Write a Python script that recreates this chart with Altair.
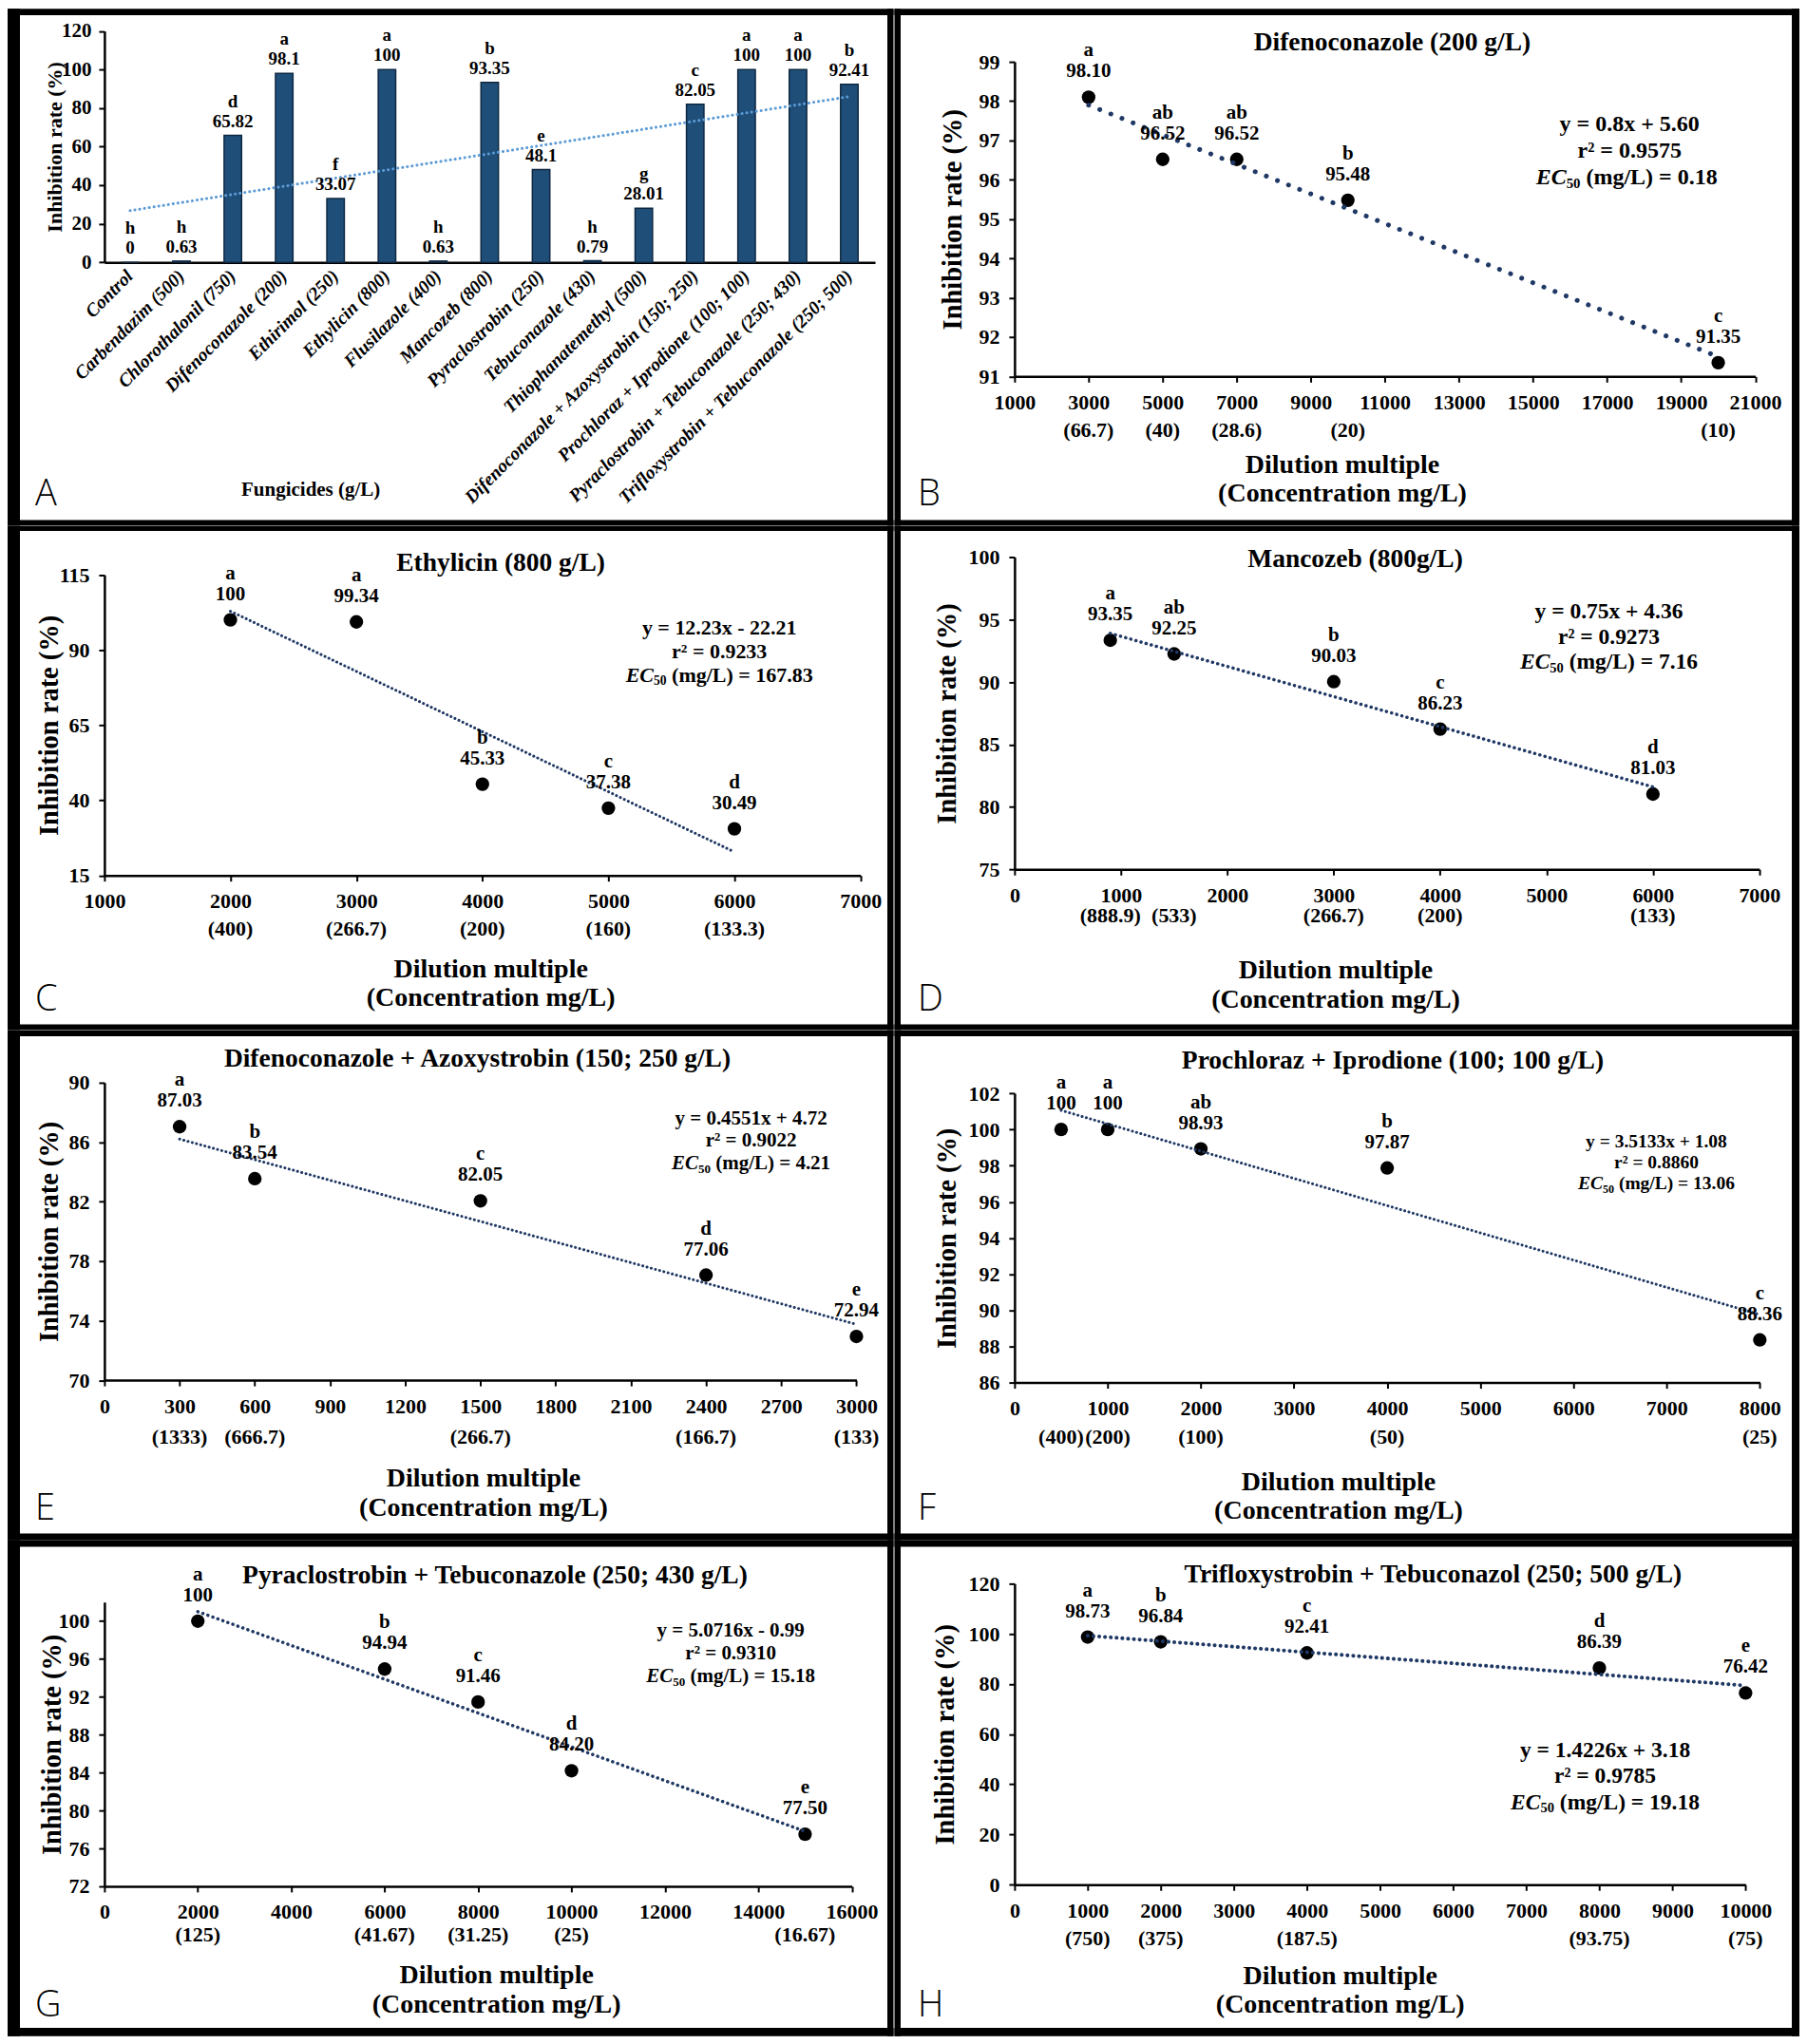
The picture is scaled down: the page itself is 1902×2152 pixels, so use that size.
import altair as alt
import pandas as pd

SERIF = "Liberation Serif"
LETTER_FONT = "Open Sans"
NAVY = "#1F3864"

# ---------------- Panel A: screening bar chart ----------------
A_categories = ["Control", "Carbendazim (500)", "Chlorothalonil (750)", "Difenoconazole (200)",
                "Ethirimol (250)", "Ethylicin (800)", "Flusilazole (400)", "Mancozeb (800)",
                "Pyraclostrobin (250)", "Tebuconazole (430)", "Thiophanatemethyl (500)",
                "Difenoconazole + Azoxystrobin (150; 250)", "Prochloraz + Iprodione (100; 100)",
                "Pyraclostrobin + Tebuconazole (250; 430)", "Trifloxystrobin + Tebuconazole (250; 500)"]
A_values = [0, 0.63, 65.82, 98.1, 33.07, 100, 0.63, 93.35, 48.1, 0.79, 28.01, 82.05, 100, 100, 92.41]
A_value_labels = ["0", "0.63", "65.82", "98.1", "33.07", "100", "0.63", "93.35", "48.1", "0.79",
                  "28.01", "82.05", "100", "100", "92.41"]
A_letters = ["h", "h", "d", "a", "f", "a", "h", "b", "e", "h", "g", "c", "a", "a", "b"]
A_trend_categories = ["Control", "Trifloxystrobin + Tebuconazole (250; 500)"]
A_trend_values = [26.8, 86.0]
A_y_ticks = [0, 20, 40, 60, 80, 100, 120]

# ---------------- Panel B ----------------
B_dilution = [3000, 5000, 7000, 10000, 20000]
B_inhibition = [98.10, 96.52, 96.52, 95.48, 91.35]
B_value_labels = ["98.10", "96.52", "96.52", "95.48", "91.35"]
B_letters = ["a", "ab", "ab", "b", "c"]
B_conc_labels = ["(66.7)", "(40)", "(28.6)", "(20)", "(10)"]
B_trend_x = [3000, 20000]
B_trend_y = [97.9, 91.5]
B_x_domain = [1000, 21000]
B_x_ticks = [1000, 3000, 5000, 7000, 9000, 11000, 13000, 15000, 17000, 19000, 21000]
B_y_domain = [91, 99]
B_y_ticks = [91, 92, 93, 94, 95, 96, 97, 98, 99]
B_title = "Difenoconazole (200 g/L)"
B_equation = "y = 0.8x + 5.60"
B_r2 = "r² = 0.9575"
B_ec50 = "(mg/L) =  0.18"

# ---------------- Panel C ----------------
C_dilution = [2000, 3000, 4000, 5000, 6000]
C_inhibition = [100, 99.34, 45.33, 37.38, 30.49]
C_value_labels = ["100", "99.34", "45.33", "37.38", "30.49"]
C_letters = ["a", "a", "b", "c", "d"]
C_conc_labels = ["(400)", "(266.7)", "(200)", "(160)", "(133.3)"]
C_trend_x = [2000, 6000]
C_trend_y = [102.9, 22.8]
C_x_domain = [1000, 7000]
C_x_ticks = [1000, 2000, 3000, 4000, 5000, 6000, 7000]
C_y_domain = [15, 115]
C_y_ticks = [15, 40, 65, 90, 115]
C_title = "Ethylicin (800 g/L)"
C_equation = "y = 12.23x - 22.21"
C_r2 = "r² = 0.9233"
C_ec50 = "(mg/L) = 167.83"

# ---------------- Panel D ----------------
D_dilution = [900, 1500, 3000, 4000, 6000]
D_inhibition = [93.35, 92.25, 90.03, 86.23, 81.03]
D_value_labels = ["93.35", "92.25", "90.03", "86.23", "81.03"]
D_letters = ["a", "ab", "b", "c", "d"]
D_conc_labels = ["(888.9)", "(533)", "(266.7)", "(200)", "(133)"]
D_trend_x = [900, 6000]
D_trend_y = [93.9, 81.6]
D_x_domain = [0, 7000]
D_x_ticks = [0, 1000, 2000, 3000, 4000, 5000, 6000, 7000]
D_y_domain = [75, 100]
D_y_ticks = [75, 80, 85, 90, 95, 100]
D_title = "Mancozeb (800g/L)"
D_equation = "y = 0.75x + 4.36"
D_r2 = "r² = 0.9273"
D_ec50 = "(mg/L) = 7.16"

# ---------------- Panel E ----------------
E_dilution = [300, 600, 1500, 2400, 3000]
E_inhibition = [87.03, 83.54, 82.05, 77.06, 72.94]
E_value_labels = ["87.03", "83.54", "82.05", "77.06", "72.94"]
E_letters = ["a", "b", "c", "d", "e"]
E_conc_labels = ["(1333)", "(666.7)", "(266.7)", "(166.7)", "(133)"]
E_trend_x = [300, 3000]
E_trend_y = [86.2, 73.75]
E_x_domain = [0, 3000]
E_x_ticks = [0, 300, 600, 900, 1200, 1500, 1800, 2100, 2400, 2700, 3000]
E_y_domain = [70, 90]
E_y_ticks = [70, 74, 78, 82, 86, 90]
E_title = "Difenoconazole + Azoxystrobin (150; 250 g/L)"
E_equation = "y = 0.4551x + 4.72"
E_r2 = "r² = 0.9022"
E_ec50 = "(mg/L) = 4.21"

# ---------------- Panel F ----------------
F_dilution = [500, 1000, 2000, 4000, 8000]
F_inhibition = [100, 100, 98.93, 97.87, 88.36]
F_value_labels = ["100", "100", "98.93", "97.87", "88.36"]
F_letters = ["a", "a", "ab", "b", "c"]
F_conc_labels = ["(400)", "(200)", "(100)", "(50)", "(25)"]
F_trend_x = [500, 8000]
F_trend_y = [101.06, 89.76]
F_x_domain = [0, 8000]
F_x_ticks = [0, 1000, 2000, 3000, 4000, 5000, 6000, 7000, 8000]
F_y_domain = [86, 102]
F_y_ticks = [86, 88, 90, 92, 94, 96, 98, 100, 102]
F_title = "Prochloraz + Iprodione (100; 100 g/L)"
F_equation = "y = 3.5133x + 1.08"
F_r2 = "r² = 0.8860"
F_ec50 = "(mg/L) = 13.06"

# ---------------- Panel G ----------------
G_dilution = [2000, 6000, 8000, 10000, 15000]
G_inhibition = [100, 94.94, 91.46, 84.20, 77.50]
G_value_labels = ["100", "94.94", "91.46", "84.20", "77.50"]
G_letters = ["a", "b", "c", "d", "e"]
G_conc_labels = ["(125)", "(41.67)", "(31.25)", "(25)", "(16.67)"]
G_trend_x = [2000, 15000]
G_trend_y = [101.0, 77.8]
G_x_domain = [0, 16000]
G_x_ticks = [0, 2000, 4000, 6000, 8000, 10000, 12000, 14000, 16000]
G_y_domain = [72, 102]
G_y_ticks = [72, 76, 80, 84, 88, 92, 96, 100]
G_title = "Pyraclostrobin + Tebuconazole (250; 430 g/L)"
G_equation = "y = 5.0716x - 0.99"
G_r2 = "r² = 0.9310"
G_ec50 = "(mg/L) = 15.18"

# ---------------- Panel H ----------------
H_dilution = [1000, 2000, 4000, 8000, 10000]
H_inhibition = [98.73, 96.84, 92.41, 86.39, 76.42]
H_value_labels = ["98.73", "96.84", "92.41", "86.39", "76.42"]
H_letters = ["a", "b", "c", "d", "e"]
H_conc_labels = ["(750)", "(375)", "(187.5)", "(93.75)", "(75)"]
H_trend_x = [1000, 10000]
H_trend_y = [99.3, 79.4]
H_x_domain = [0, 10000]
H_x_ticks = [0, 1000, 2000, 3000, 4000, 5000, 6000, 7000, 8000, 9000, 10000]
H_y_domain = [0, 120]
H_y_ticks = [0, 20, 40, 60, 80, 100, 120]
H_title = "Trifloxystrobin + Tebuconazol (250; 500 g/L)"
H_equation = "y = 1.4226x + 3.18"
H_r2 = "r² = 0.9785"
H_ec50 = "(mg/L) = 19.18"

# ---------------- layout (pixels, page coordinates) ----------------
COL_X = [(8, 941.5), (941.5, 1895)]
ROW_Y = [(8, 552.5), (552.5, 1084), (1084, 1621), (1621, 2144)]
COL_T = [(13, 6.5), (6.5, 8)]          # left / right frame thickness
ROW_T = [(7, 5.5), (5.5, 6), (6, 7), (7, 9)]  # top / bottom frame thickness
COL_PX = [110, 1068]                   # common y-axis position per column
VIEW_INSET = 20                        # view top below the frame's top edge
LETTER_X = [37, 966]

# measured plot areas: left, top, width, height
GEOM = {
    "A": dict(px0=109, py=31.6, W0=813, H=243.7, col=0, row=0),
    "B": dict(px0=1060, py=64, W0=788.5, H=331.6, col=1, row=0),
    "C": dict(px0=108, py=604.2, W0=798.6, H=316.8, col=0, row=1),
    "D": dict(px0=1072.3, py=585.6, W0=780.5, H=329, col=1, row=1),
    "E": dict(px0=110.4, py=1138.8, W0=792, H=313.7, col=0, row=2),
    "F": dict(px0=1072.3, py=1150.2, W0=781, H=304.8, col=1, row=2),
    "G": dict(px0=111, py=1686.5, W0=786.5, H=299.4, col=0, row=3),
    "H": dict(px0=1069.3, py=1667, W0=769, H=317.2, col=1, row=3),
}

# positions relative to the measured plot origin
STYLE = {
    "B": dict(title=(406, -20), eq=(656, 66.5, 28, 24), xt=(353, 92), yt=-57.5, conc=57, trend=(5, [0.1, 12.5])),
    "C": dict(title=(419.6, -12.7), eq=(650, 56, 25, 22), xt=(408.7, 97.5), yt=-56.5, conc=56, trend=(3, [0.1, 4.5])),
    "D": dict(title=(354.7, 2.4), eq=(622, 57, 27, 23.5), xt=(333.7, 105.5), yt=-75.8, conc=49, trend=(3.5, [0.1, 5.5])),
    "E": dict(title=(392.6, -25.1), eq=(681, 38, 23.5, 21), xt=(398.6, 103), yt=-59, conc=60, trend=(3, [0.1, 4.5])),
    "F": dict(title=(394.2, -33.8), eq=(672, 50.6, 22.4, 19.5), xt=(336.7, 104), yt=-75.8, conc=57.4, trend=(3, [0.1, 4.5])),
    "G": dict(title=(410.5, -27.7), eq=(659, 30.5, 24, 21), xt=(411.7, 93), yt=-56.4, conc=51, trend=(3.5, [0.1, 5.5])),
    "H": dict(title=(439.7, -9.2), eq=(621, 175.7, 27.4, 23.5), xt=(341.4, 95), yt=-74.6, conc=57, trend=(4, [0.1, 6])),
}

TB_W = {" ": 250, "(": 333, ")": 333, "/": 278, "=": 570, "+": 570, "-": 333, ".": 250,
        ";": 333, "m": 833, "g": 500, "L": 667}


def text_width(s, size):
    return sum(TB_W.get(c, 500) for c in s) / 1000.0 * size


def geom(p):
    g = dict(GEOM[p])
    g["px"] = COL_PX[g["col"]]
    g["W"] = g["px0"] + g["W0"] - g["px"]
    g["dx"] = g["px0"] - g["px"]
    g["vtop"] = ROW_Y[g["row"]][0] + VIEW_INSET
    g["oy"] = g["py"] - g["vtop"]
    g["Hv"] = g["py"] + g["H"] - g["vtop"]
    return g


def one():
    return alt.Data(values=[{}])


def txt(s, x, y, size, weight="bold", style="normal", align="center", baseline="middle", font=SERIF):
    return alt.Chart(one()).mark_text(
        text=s, font=font, fontSize=size, fontWeight=weight, fontStyle=style,
        align=align, baseline=baseline, color="black"
    ).encode(x=alt.value(x), y=alt.value(y))


def frame_layers(p, g):
    cx0, cx1 = COL_X[g["col"]]
    cy0, cy1 = ROW_Y[g["row"]]
    L, R = cx0 - g["px"], cx1 - g["px"]
    T, B = cy0 - g["vtop"], cy1 - g["vtop"]
    tl, tr = COL_T[g["col"]]
    tt, tb = ROW_T[g["row"]]
    rects = [(L, L + tl, T, B), (R - tr, R, T, B), (L, R, T, T + tt), (L, R, B - tb, B)]
    layers = [alt.Chart(one()).mark_rect(color="black").encode(
        x=alt.value(a), x2=alt.value(b), y=alt.value(c), y2=alt.value(d)) for a, b, c, d in rects]
    lx = LETTER_X[g["col"]] - g["px"]
    ly = cy1 - 21 - g["vtop"]
    layers.append(txt(p, lx, ly, 38, weight=300, align="left", baseline="alphabetic", font=LETTER_FONT))
    return layers


def ec_layers(rest, cx, cy, size):
    w_ec = 1.334 * size
    sub = 0.62 * size
    w_sub = text_width("50", sub)
    w_sp = 0.25 * size
    w_rest = text_width(rest, size)
    x0 = cx - (w_ec + w_sub + w_sp + w_rest) / 2
    return [
        txt("EC", x0, cy, size, style="italic", align="left"),
        txt("50", x0 + w_ec, cy + 0.28 * size, sub, align="left"),
        txt(rest, x0 + w_ec + w_sub + w_sp, cy, size, align="left"),
    ]


def scatter_panel(p, x, y, vals, lets, conc, tx, ty, xdom, xticks, ydom, yticks, title, eq, r2, ec):
    g = geom(p)
    s = STYLE[p]
    W, Hv, oy, dx = g["W"], g["Hv"], g["oy"], g["dx"]
    df = pd.DataFrame({"x": x, "y": y, "val": vals, "let": lets, "conc": conc})
    xs = alt.Scale(domain=xdom, nice=False, zero=False)
    ys = alt.Scale(domain=ydom, nice=False, zero=False, range=[Hv, oy])
    xaxis = alt.Axis(values=xticks, format="d", title=["Dilution multiple", "(Concentration mg/L)"],
                     titleX=s["xt"][0] + dx, titleY=s["xt"][1] - 13, titleAlign="center", titleBaseline="top",
                     titleLineHeight=30.5, titleFontSize=28, labelFontSize=22, labelPadding=11,
                     labelFlush=False, labelOverlap=False)
    yaxis = alt.Axis(values=yticks, title="Inhibition rate (%)", titleX=s["yt"] + dx, titleY=oy + g["H"] / 2,
                     titleAngle=270, titleAlign="center", titleBaseline="middle", titleFontSize=28.5,
                     labelFontSize=22, labelPadding=10, labelFlush=False, labelOverlap=False)
    X = alt.X("x:Q", scale=xs, axis=xaxis)
    Y = alt.Y("y:Q", scale=ys, axis=yaxis)
    base = alt.Chart(df)
    trend = alt.Chart(pd.DataFrame({"x": tx, "y": ty})).mark_line(
        color=NAVY, strokeWidth=s["trend"][0], strokeDash=s["trend"][1], strokeCap="round"
    ).encode(x=X, y=Y)
    pts = base.mark_circle(size=205, color="black", opacity=1).encode(x=X, y=Y)
    num = base.mark_text(font=SERIF, fontSize=21, fontWeight="bold", color="black", dy=-27).encode(
        x=X, y=Y, text="val:N")
    let = base.mark_text(font=SERIF, fontSize=21, fontWeight="bold", color="black", dy=-49).encode(
        x=X, y=Y, text="let:N")
    concl = base.mark_text(font=SERIF, fontSize=22, fontWeight="bold", color="black", baseline="middle").encode(
        x=X, y=alt.value(Hv + s["conc"]), text="conc:N")
    ex, ey, esp, esz = s["eq"]
    ex, ey = ex + dx, ey + oy
    layers = [pts, trend, num, let, concl,
              txt(title, s["title"][0] + dx, s["title"][1] + oy, 27.5),
              txt(eq, ex, ey, esz),
              txt(r2, ex, ey + esp, esz)]
    layers += ec_layers(ec, ex, ey + 2 * esp, esz)
    layers += frame_layers(p, g)
    return alt.layer(*layers).properties(width=W, height=Hv)


def bar_panel():
    g = geom("A")
    W, Hv, oy, dx = g["W"], g["Hv"], g["oy"], g["dx"]
    df = pd.DataFrame({"cat": A_categories, "val": A_values, "lab": A_value_labels, "let": A_letters})
    xs = alt.Scale(domain=A_categories, paddingInner=0.66, paddingOuter=0.33)
    ys = alt.Scale(domain=[0, 120], nice=False, zero=True, range=[Hv, oy])
    xaxis = alt.Axis(title="Fungicides (g/L)", titleX=218 + dx, titleY=240, titleAlign="center",
                     titleBaseline="middle", titleFontSize=21, labelAngle=315, labelAlign="right",
                     labelBaseline="middle", labelFontSize=19.5, labelFontStyle="italic",
                     labelPadding=11, labelLimit=600, ticks=False, tickSize=0)
    yaxis = alt.Axis(values=A_y_ticks, title="Inhibition rate (%)", titleX=-51.4 + dx, titleY=oy + g["H"] / 2,
                     titleAngle=270, titleAlign="center", titleBaseline="middle", titleFontSize=22,
                     labelFontSize=21, labelPadding=8, labelFlush=False)
    X = alt.X("cat:N", scale=xs, axis=xaxis)
    Y = alt.Y("val:Q", scale=ys, axis=yaxis)
    base = alt.Chart(df)
    bars = base.mark_bar(color="#1F4E79", stroke="#0E2841", strokeWidth=1.5).encode(x=X, y=Y)
    trend = alt.Chart(pd.DataFrame({"cat": A_trend_categories, "val": A_trend_values})).mark_line(
        color="#5B9BD5", strokeWidth=3, strokeDash=[0.1, 5], strokeCap="round").encode(x=X, y=Y)
    num = base.mark_text(font=SERIF, fontSize=19, fontWeight="bold", color="black", dy=-15).encode(
        x=X, y=Y, text="lab:N")
    let = base.mark_text(font=SERIF, fontSize=19, fontWeight="bold", color="black", dy=-36).encode(
        x=X, y=Y, text="let:N")
    layers = [bars, trend, num, let] + frame_layers("A", g)
    return alt.layer(*layers).properties(width=W, height=Hv)


pA = bar_panel()
pB = scatter_panel("B", B_dilution, B_inhibition, B_value_labels, B_letters, B_conc_labels, B_trend_x, B_trend_y,
                   B_x_domain, B_x_ticks, B_y_domain, B_y_ticks, B_title, B_equation, B_r2, B_ec50)
pC = scatter_panel("C", C_dilution, C_inhibition, C_value_labels, C_letters, C_conc_labels, C_trend_x, C_trend_y,
                   C_x_domain, C_x_ticks, C_y_domain, C_y_ticks, C_title, C_equation, C_r2, C_ec50)
pD = scatter_panel("D", D_dilution, D_inhibition, D_value_labels, D_letters, D_conc_labels, D_trend_x, D_trend_y,
                   D_x_domain, D_x_ticks, D_y_domain, D_y_ticks, D_title, D_equation, D_r2, D_ec50)
pE = scatter_panel("E", E_dilution, E_inhibition, E_value_labels, E_letters, E_conc_labels, E_trend_x, E_trend_y,
                   E_x_domain, E_x_ticks, E_y_domain, E_y_ticks, E_title, E_equation, E_r2, E_ec50)
pF = scatter_panel("F", F_dilution, F_inhibition, F_value_labels, F_letters, F_conc_labels, F_trend_x, F_trend_y,
                   F_x_domain, F_x_ticks, F_y_domain, F_y_ticks, F_title, F_equation, F_r2, F_ec50)
pG = scatter_panel("G", G_dilution, G_inhibition, G_value_labels, G_letters, G_conc_labels, G_trend_x, G_trend_y,
                   G_x_domain, G_x_ticks, G_y_domain, G_y_ticks, G_title, G_equation, G_r2, G_ec50)
pH = scatter_panel("H", H_dilution, H_inhibition, H_value_labels, H_letters, H_conc_labels, H_trend_x, H_trend_y,
                   H_x_domain, H_x_ticks, H_y_domain, H_y_ticks, H_title, H_equation, H_r2, H_ec50)

chart = alt.concat(pA, pB, pC, pD, pE, pF, pG, pH, columns=2, spacing=0, align="each", bounds="full").properties(
    padding=0, background="white"
).configure_view(
    strokeWidth=0
).configure_axis(
    domainColor="black", domainWidth=2.5, tickColor="black", tickWidth=2, tickSize=6,
    labelColor="black", labelFont=SERIF, labelFontWeight="bold",
    titleFont=SERIF, titleFontWeight="bold", titleColor="black", grid=False
)

chart.save("out.html", embed_options={"renderer": "svg", "actions": False})
